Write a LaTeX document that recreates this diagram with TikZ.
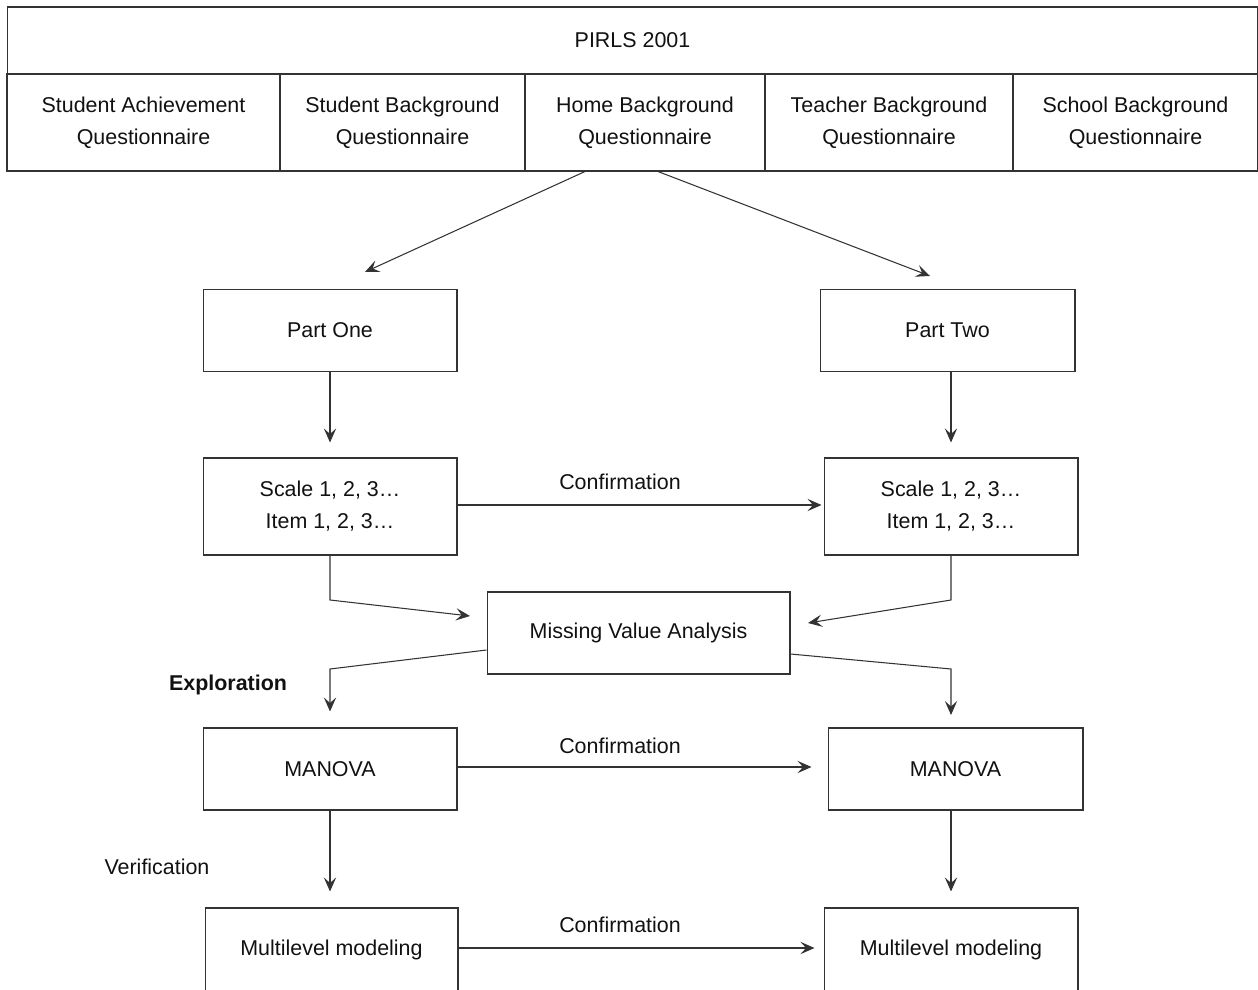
\documentclass[tikz,border=0pt]{standalone}
\usepackage{fontspec}
\setmainfont{Liberation Sans}
\usetikzlibrary{arrows.meta,calc}

\definecolor{linegray}{HTML}{333333}
\definecolor{textgray}{HTML}{111111}

\tikzset{
  cell/.style={draw=linegray, line width=0.6pt, minimum height=1.94cm, inner sep=0pt, align=center, text=textgray},
  box/.style={draw=linegray, line width=0.6pt, minimum width=5.08cm, minimum height=1.64cm, inner sep=0pt, align=center, text=textgray},
  arr/.style={draw=linegray, line width=0.6pt, -{Stealth[length=8pt,width=7pt,inset=3.2pt]}},
  lbl/.style={text=textgray, inner sep=0pt}
}

\begin{document}
\fontsize{12.2}{18.2}\selectfont
\begin{tikzpicture}[x=0.02cm, y=-0.02cm]
  \useasboundingbox (0,0) rectangle (1258,990);
  \clip (0,0) rectangle (1258,990);

  % questionnaire table
  \node[cell, minimum width=25.02cm, minimum height=1.34cm] (pirls) at (632.5,40.5) {PIRLS 2001};
  \node[cell, minimum width=5.46cm] (achieve) at (143.5,122.5) {Student Achievement\\Questionnaire};
  \node[cell, minimum width=4.90cm] (student) at (402.5,122.5) {Student Background\\Questionnaire};
  \node[cell, minimum width=4.80cm] (home) at (645,122.5) {Home Background\\Questionnaire};
  \node[cell, minimum width=4.96cm] (teacher) at (889,122.5) {Teacher Background\\Questionnaire};
  \node[cell, minimum width=4.90cm] (school) at (1135.5,122.5) {School Background\\Questionnaire};

  % two parts
  \node[box] (partone) at (330,330.5) {Part One};
  \node[box, minimum width=5.10cm] (parttwo) at (947.5,330.5) {Part Two};
  \node[box, minimum height=1.94cm] (scaleone) at (330,506.5) {Scale 1, 2, 3\ldots\\Item 1, 2, 3\ldots};
  \node[box, minimum height=1.94cm] (scaletwo) at (951,506.5) {Scale 1, 2, 3\ldots\\Item 1, 2, 3\ldots};
  \node[box, minimum width=6.06cm] (missing) at (638.5,633) {Missing Value Analysis};
  \node[box] (manovaone) at (330,769) {MANOVA};
  \node[box, minimum width=5.10cm] (manovatwo) at (955.5,769) {MANOVA};
  \node[box, minimum width=5.06cm, minimum height=1.68cm] (multione) at (331.5,950) {Multilevel modeling};
  \node[box, minimum height=1.68cm] (multitwo) at (951,950) {Multilevel modeling};

  % free ends
  \coordinate (toone) at (365,272);
  \coordinate (totwo) at (930,276);
  \coordinate (bendone) at (330,600);
  \coordinate (bendtwo) at (951,600);
  \coordinate (inone) at (470,616);
  \coordinate (intwo) at (808,623);
  \coordinate (outone) at (330,669);
  \coordinate (outtwo) at (951,669);
  \coordinate (downtwo) at (951,715);

  \draw[arr] ($(home.south)+(-60,0)$) -- (toone);
  \draw[arr] ($(home.south)+(13,0)$) -- (totwo);
  \draw[arr, shorten >=0.30cm] (partone) -- (scaleone);
  \draw[arr, shorten >=0.30cm] (parttwo.south -| scaletwo.north) -- (scaletwo.north);
  \draw[arr, shorten >=0.04cm] ($(scaleone.east)+(0,-1.5)$) -- ($(scaletwo.west)+(0,-1.5)$);
  \draw[arr] (scaleone.south) -- (bendone) -- (inone);
  \draw[arr] (scaletwo.south) -- (bendtwo) -- (intwo);
  \draw[arr, shorten >=0.32cm] ($(missing.west)+(0,17)$) -- (outone) -- (manovaone);
  \draw[arr] ($(missing.east)+(0,21)$) -- (outtwo) -- (downtwo);
  \draw[arr, shorten >=0.32cm] ($(manovaone.east)+(0,-2)$) -- ($(manovatwo.west)+(0,-2)$);
  \draw[arr, shorten >=0.32cm] (manovaone.south) -- (manovaone.south |- multione.north);
  \draw[arr, shorten >=0.32cm] (manovatwo.south -| multitwo.north) -- (multitwo.north);
  \draw[arr, shorten >=0.18cm] ($(multione.east)+(0,-2)$) -- ($(multitwo.west)+(0,-2)$);

  % labels
  \node[lbl] (conf1) at (620,482) {Confirmation};
  \node[lbl] (conf2) at (620,746) {Confirmation};
  \node[lbl] (conf3) at (620,925) {Confirmation};
  \node[lbl, font=\bfseries] (explore) at (228,685) {Exploration};
  \node[lbl] (verify) at (157,867) {Verification};
\end{tikzpicture}
\end{document}
